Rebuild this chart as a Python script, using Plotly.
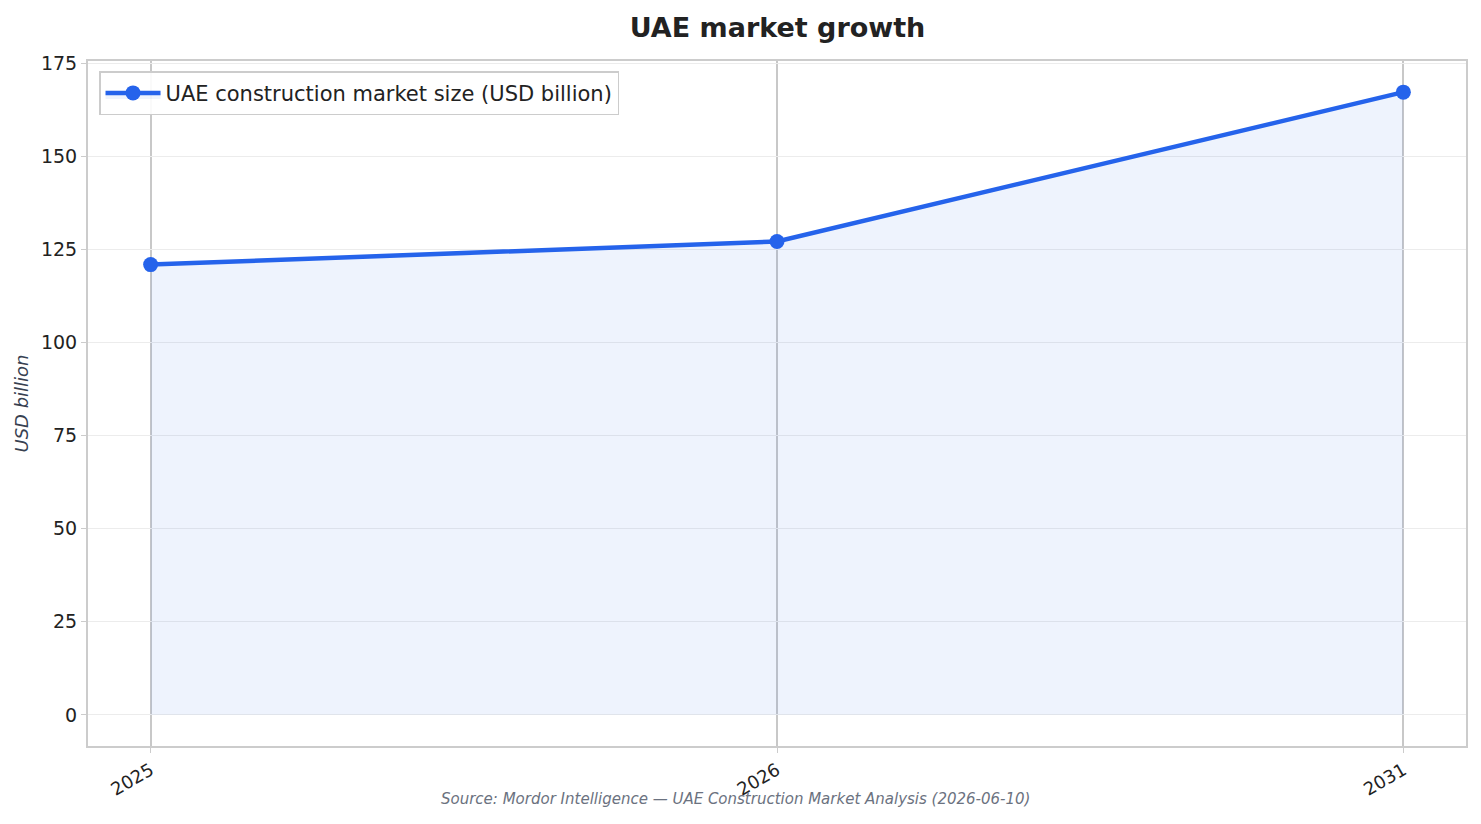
import plotly.graph_objects as go

# data
years = ['2025', '2026', '2031']
market_size = [120.9, 127.1, 167.2]   # USD billion
y_ticks = [0, 25, 50, 75, 100, 125, 150, 175]

line_color = '#2563eb'

trace = go.Scatter(
    x=years,
    y=market_size,
    mode='lines+markers',
    name='UAE construction market size (USD billion)',
    line=dict(color=line_color, width=4.5),
    marker=dict(color=line_color, size=15),
    fill='tozeroy',
    fillcolor='rgba(37,99,235,0.08)',
)

layout = go.Layout(
    width=1481, height=824,
    font=dict(family='DejaVu Sans', size=19, color='#222'),
    title=dict(text='<b>UAE market growth</b>', x=0.525, xanchor='center',
               y=0.967, yanchor='middle', font=dict(size=27, color='#222')),
    paper_bgcolor='white',
    plot_bgcolor='white',
    margin=dict(l=88, r=15, t=61, b=78),
    xaxis=dict(
        type='category', range=[-0.1, 2.1],
        tickangle=-30, ticks='outside', ticklen=5, tickcolor='#ccc',
        showgrid=True, gridcolor='#c8c8c8', gridwidth=1.5,
        showline=True, linecolor='#ccc', linewidth=2, mirror=True,
        zeroline=False, tickfont=dict(size=18),
    ),
    yaxis=dict(
        range=[-8.36, 175.56], tickvals=y_ticks,
        ticks='outside', ticklen=5, tickcolor='#ccc',
        showgrid=True, gridcolor='#ececec', gridwidth=1,
        showline=True, linecolor='#ccc', linewidth=2, mirror=True,
        zeroline=False, tickfont=dict(size=19),
        title=dict(text='<i>USD billion</i>', font=dict(size=18, color='#374151'), standoff=8),
    ),
    legend=dict(
        x=0.008, y=0.985, xanchor='left', yanchor='top',
        bgcolor='rgba(255,255,255,0.9)', bordercolor='#ccc', borderwidth=1.5,
        font=dict(size=21, color='#222'), itemwidth=55,
    ),
    showlegend=True,
    annotations=[dict(
        text='<i>Source: Mordor Intelligence — UAE Construction Market Analysis (2026-06-10)</i>',
        xref='paper', yref='paper', x=0.47, y=-0.078, xanchor='center', yanchor='middle',
        showarrow=False, font=dict(size=15, color='#6b7280'),
    )],
)

fig = go.Figure(data=[trace], layout=layout)
# drop the default page margin so the figure sits at the top-left corner
fig.write_html('out.html', config={'displayModeBar': False},
               post_script="document.body.style.margin='0';")
